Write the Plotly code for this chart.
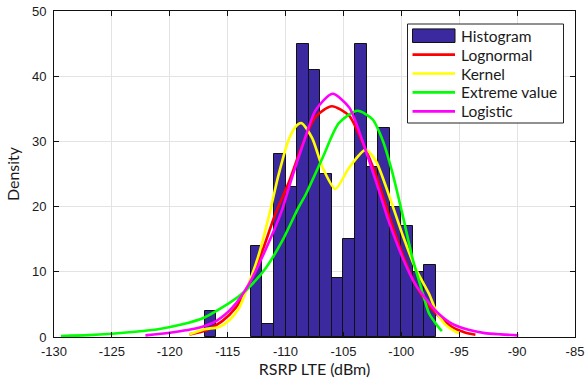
import plotly.graph_objects as go

# Histogram of RSRP samples (bin centres, bin width 1 dBm)
bin_centers = [-116.5, -112.5, -111.5, -110.5, -109.5, -108.5, -107.5, -106.5,
               -105.5, -104.5, -103.5, -102.5, -101.5, -100.5, -99.5, -98.5, -97.5]
bin_density = [4, 14, 2, 28, 23, 45, 41, 25, 9, 15, 45, 26, 32, 20, 17, 10, 11]

# Fitted densities
lognormal_x = [-118.3, -116.9, -115.5, -114.3, -113.2, -112.0, -110.9, -109.7, -108.5,
               -107.4, -106.0, -104.5, -103.4, -102.2, -101.1, -99.9, -98.8, -97.6,
               -96.8, -95.6, -94.5, -93.6]
lognormal_y = [0.4, 1.0, 2.4, 4.5, 8.0, 13.2, 18.8, 23.8, 29.7, 33.8, 35.4, 33.9, 30.0,
               24.9, 18.8, 12.7, 8.1, 4.8, 3.3, 1.5, 0.7, 0.35]

kernel_x = [-118.3, -117.0, -115.8, -114.9, -114.0, -113.2, -112.3, -111.4, -110.6,
            -109.7, -109.0, -108.6, -107.7, -106.8, -105.7, -104.5, -103.1, -102.2,
            -101.1, -99.9, -98.8, -97.6, -97.0, -96.2, -95.3, -95.0]
kernel_y = [0.4, 1.2, 1.5, 2.5, 4.5, 8.1, 12.7, 18.8, 24.9, 30.4, 32.5, 32.8, 30.5,
            26.0, 22.7, 26.0, 28.7, 27.0, 21.9, 15.7, 10.6, 6.6, 4.0, 1.9, 0.8, 0.6]

extreme_x = [-129.4, -127.0, -125.0, -123.0, -121.0, -119.0, -117.0, -115.5, -114.0,
             -113.0, -111.7, -110.3, -108.9, -108.25, -106.8, -105.4, -103.8, -102.5,
             -101.6, -100.8, -99.9, -99.05, -98.2, -97.6, -97.0, -96.5]
extreme_y = [0.15, 0.28, 0.5, 0.8, 1.2, 1.9, 3.0, 4.5, 6.3, 7.9, 10.6, 14.7, 19.8,
             21.9, 27.5, 32.8, 34.7, 33.4, 30.1, 25.4, 18.8, 12.2, 7.0, 3.6, 2.0, 0.9]

logistic_x = [-122.1, -120.0, -117.5, -116.0, -114.6, -113.2, -111.7, -110.3, -109.7,
              -108.5, -107.4, -105.95, -104.5, -103.4, -102.2, -101.1, -99.9, -98.8,
              -97.6, -96.8, -95.6, -94.2, -92.8, -91.4, -89.9]
logistic_y = [0.25, 0.66, 1.43, 2.45, 4.5, 8.0, 13.5, 19.5, 23.0, 29.5, 34.8, 37.3,
              35.2, 30.3, 23.9, 17.8, 12.2, 8.1, 5.2, 3.6, 2.0, 1.1, 0.6, 0.4, 0.25]

x_ticks = [-130, -125, -120, -115, -110, -105, -100, -95, -90, -85]
y_ticks = [0, 10, 20, 30, 40, 50]

BAR_COLOR = "#3b2a9f"
curves = [
    ("Lognormal", lognormal_x, lognormal_y, "#ff0000"),
    ("Kernel", kernel_x, kernel_y, "#ffff00"),
    ("Extreme value", extreme_x, extreme_y, "#00ff00"),
    ("Logistic", logistic_x, logistic_y, "#ff00ff"),
]

fig = go.Figure()

fig.add_trace(go.Bar(
    x=bin_centers, y=bin_density, width=1, name="Histogram",
    marker=dict(color=BAR_COLOR, line=dict(color="#111111", width=1)),
))

for name, xs, ys, color in curves:
    fig.add_trace(go.Scatter(
        x=xs, y=ys, name=name, mode="lines",
        line=dict(color=color, width=2.6, shape="spline", smoothing=0.7),
    ))

# Boxed legend in the upper-right corner of the axes (plot area is 521 x 326 px)
W, H = 521.0, 326.0
def px(dx):  # horizontal offset from the plot's left edge -> paper fraction
    return dx / W
def py(dy):  # vertical offset from the plot's top edge -> paper fraction
    return 1 - dy / H

legend_font = dict(family="Lato, sans-serif", size=15.5, color="#1a1a1a")
box_l, box_r, box_t, box_b = 353.5, 509.5, 13.0, 112.0
sym_l, sym_r, text_x = 358.5, 401.0, 405.0
row0, row_step = 24.7, 18.9

shapes = [dict(type="rect", xref="paper", yref="paper",
               x0=px(box_l), x1=px(box_r), y0=py(box_b), y1=py(box_t),
               line=dict(color="#222222", width=1), fillcolor="white", layer="above")]
annotations = []

shapes.append(dict(type="rect", xref="paper", yref="paper",
                   x0=px(sym_l), x1=px(sym_r), y0=py(row0 + 6.8), y1=py(row0 - 6.8),
                   line=dict(color="#111111", width=1), fillcolor=BAR_COLOR, layer="above"))
annotations.append(dict(text="Histogram", xref="paper", yref="paper",
                        x=px(text_x), y=py(row0), xanchor="left", yanchor="middle",
                        showarrow=False, font=legend_font))
for i, (name, _, _, color) in enumerate(curves):
    yy = row0 + row_step * (i + 1)
    shapes.append(dict(type="line", xref="paper", yref="paper",
                       x0=px(sym_l), x1=px(sym_r), y0=py(yy), y1=py(yy),
                       line=dict(color=color, width=2.7), layer="above"))
    annotations.append(dict(text=name, xref="paper", yref="paper",
                            x=px(text_x), y=py(yy), xanchor="left", yanchor="middle",
                            showarrow=False, font=legend_font))

tick_font = dict(family="Liberation Sans, Arial, sans-serif", size=13, color="#1a1a1a")
label_font = dict(family="Lato, sans-serif", size=16, color="#1a1a1a")

fig.update_layout(
    width=588, height=382,
    margin=dict(l=54, r=13, t=11, b=45, autoexpand=False),
    paper_bgcolor="white", plot_bgcolor="white",
    bargap=0,
    showlegend=False,
    shapes=shapes,
    annotations=annotations,
    xaxis=dict(
        range=[-130, -85], tickvals=x_ticks, ticktext=[str(v) for v in x_ticks],
        showgrid=True, gridcolor="#e3e3e3", gridwidth=1,
        ticks="inside", ticklen=5, tickcolor="#111111",
        showline=True, linecolor="#111111", linewidth=1, mirror="ticks",
        zeroline=False, tickfont=tick_font, automargin=False,
        ticklabelstandoff=2,
        title=dict(text="RSRP LTE (dBm)", font=label_font, standoff=2),
    ),
    yaxis=dict(
        range=[0, 50], tickvals=y_ticks,
        showgrid=True, gridcolor="#e3e3e3", gridwidth=1,
        ticks="inside", ticklen=5, tickcolor="#111111",
        showline=True, linecolor="#111111", linewidth=1, mirror="ticks",
        zeroline=False, tickfont=tick_font, automargin=False,
        ticklabelstandoff=4,
        title=dict(text="Density", font=label_font, standoff=8),
    ),
)

fig.write_html("out.html")
